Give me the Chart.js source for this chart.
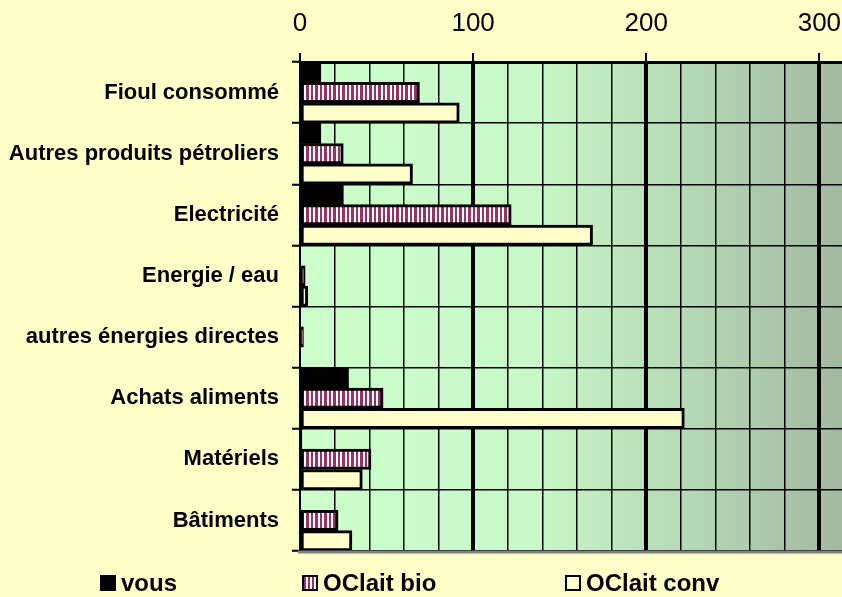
<!DOCTYPE html>
<html lang="fr">
<head>
<meta charset="utf-8">
<title>Consommation d'énergie</title>
<script src="https://cdn.jsdelivr.net/npm/chart.js@4/dist/chart.umd.min.js"></script>
<style>
    html, body {
        margin: 0;
        padding: 0;
        background: #FFFFC8;
        overflow: hidden;
    }
    #wrap {
        position: relative;
        width: 842px;
        height: 597px;
        overflow: hidden;
    }
    #chart {
        position: absolute;
        left: 0;
        top: 0;
    }
    .legend-item {
        position: absolute;
        top: 569px;
        font: bold 24px "Liberation Sans", Arial, sans-serif;
        color: #000;
        white-space: nowrap;
    }
    .legend-box {
        position: absolute;
        top: 6px;
        left: 0;
        width: 16px;
        height: 16px;
        box-sizing: border-box;
    }
    .legend-text {
        position: absolute;
        left: 21px;
        top: 0;
    }
</style>
</head>
<body>
<div id="wrap">
    <!-- wider than the window: the plot runs past the right edge, as in the original -->
    <canvas id="chart" width="868" height="597"></canvas>
</div>

<script>
// =============================================
// DATA
// =============================================

const categories = [
    "Fioul consommé",
    "Autres produits pétroliers",
    "Electricité",
    "Energie / eau",
    "autres énergies directes",
    "Achats aliments",
    "Matériels",
    "Bâtiments"
];

const seriesNames = ["vous", "OClait bio", "OClait conv"];

const vousValues = [12, 12, 25, 0, 0, 28, 1, 0];
const bioValues  = [69, 25, 122, 3, 2, 48, 41, 22];
const convValues = [92, 65, 169, 4.5, 0, 222, 36, 30];

const xTicksMax  = 320;
const xTickStep  = 20;
const xMajorStep = 100;

// =============================================
// STYLES
// =============================================

const FONT = '"Liberation Sans", Arial, sans-serif';
const MAGENTA = "#993366";
const CONV_FILL = "#FFFFCC";

// vertical magenta / white stripes for "OClait bio"
function stripePattern() {
    const c = document.createElement("canvas");
    c.width = 9;
    c.height = 4;
    const g = c.getContext("2d");
    g.fillStyle = "#FFFFFF";
    g.fillRect(0, 0, 9, 4);
    g.fillStyle = MAGENTA;
    g.fillRect(0, 0, 3, 4);
    g.fillRect(5, 0, 2, 4);
    return g.createPattern(c, "repeat");
}

// =============================================
// PLOT BACKGROUND + BOTTOM LINE
// =============================================

const plotBackground = {
    id: "plotBackground",
    beforeDraw(chart) {
        const { ctx, chartArea: a } = chart;
        const grad = ctx.createLinearGradient(a.left, 0, a.right, 0);
        grad.addColorStop(0, "#CCFFCC");
        grad.addColorStop(0.42, "#C8F8C8");
        grad.addColorStop(1, "#A0B6A0");
        ctx.save();
        ctx.fillStyle = grad;
        ctx.fillRect(a.left, a.top, a.right - a.left, a.bottom - a.top);
        ctx.restore();
    },
    afterDraw(chart) {
        const { ctx, chartArea: a } = chart;
        ctx.save();
        ctx.strokeStyle = "#808080";
        ctx.lineWidth = 3;
        ctx.beginPath();
        ctx.moveTo(a.left - 2, a.bottom + 1);
        ctx.lineTo(a.right, a.bottom + 1);
        ctx.stroke();
        ctx.restore();
    }
};

// =============================================
// CHART
// =============================================

const chart = new Chart(document.getElementById("chart"), {

    type: "bar",

    data: {
        labels: categories,
        datasets: [
            {
                label: seriesNames[0],
                data: vousValues,
                backgroundColor: "#000000",
                borderWidth: 0
            },
            {
                label: seriesNames[1],
                data: bioValues,
                backgroundColor: stripePattern(),
                borderColor: "#000000",
                borderWidth: 3,
                borderSkipped: false
            },
            {
                label: seriesNames[2],
                data: convValues,
                backgroundColor: CONV_FILL,
                borderColor: "#000000",
                borderWidth: 3,
                borderSkipped: false
            }
        ]
    },

    options: {
        indexAxis: "y",
        responsive: false,
        animation: false,
        datasets: {
            bar: { barPercentage: 1, categoryPercentage: 1 }
        },
        layout: {
            padding: { left: 0, right: 0, top: 0, bottom: 46 }
        },
        plugins: {
            legend: { display: false },
            tooltip: { enabled: false }
        },
        scales: {
            x: {
                position: "top",
                min: 0,
                max: xTicksMax,
                ticks: {
                    stepSize: xTickStep,
                    autoSkip: false,
                    maxRotation: 0,
                    padding: 14,
                    color: "#000",
                    font: { family: FONT, size: 26 },
                    callback: v => (v % xMajorStep === 0 ? String(v) : "")
                },
                grid: {
                    color: "#000",
                    lineWidth: c => {
                        const v = c.tick ? c.tick.value : 1;
                        if (v === 0) return 2;
                        return v % xMajorStep === 0 ? 4 : 1.5;
                    },
                    tickLength: 9,
                    tickWidth: 2,
                    tickColor: c => (c.tick && c.tick.value % xMajorStep === 0 ? "#000" : "rgba(0,0,0,0)")
                },
                border: { color: "#000", width: 3 },
                afterFit: s => { s.height = 62; }
            },
            y: {
                ticks: {
                    autoSkip: false,
                    padding: 13,
                    color: "#000",
                    font: { family: FONT, size: 22, weight: "bold" }
                },
                grid: {
                    color: "#000",
                    lineWidth: 1.5,
                    offset: true,
                    tickLength: 8,
                    tickWidth: 2
                },
                border: { color: "#000", width: 2 },
                afterFit: s => { s.width = 300; }
            }
        }
    },

    plugins: [plotBackground]

});

// =============================================
// LEGEND (built from the datasets)
// =============================================

const legendX = [100, 302, 565];

function legendBoxStyle(i) {
    if (i === 0) return "background:#000;";
    if (i === 1) {
        return "border:2px solid #000;background:repeating-linear-gradient(90deg," +
            MAGENTA + " 0 2px,#fff 2px 4px);";
    }
    return "border:2px solid #000;background:" + CONV_FILL + ";";
}

const wrap = document.getElementById("wrap");
chart.data.datasets.forEach((ds, i) => {
    const item = document.createElement("div");
    item.className = "legend-item";
    item.style.left = legendX[i] + "px";
    item.innerHTML =
        `<span class="legend-box" style="${legendBoxStyle(i)}"></span>` +
        `<span class="legend-text">${ds.label}</span>`;
    wrap.appendChild(item);
});
</script>
</body>
</html>
